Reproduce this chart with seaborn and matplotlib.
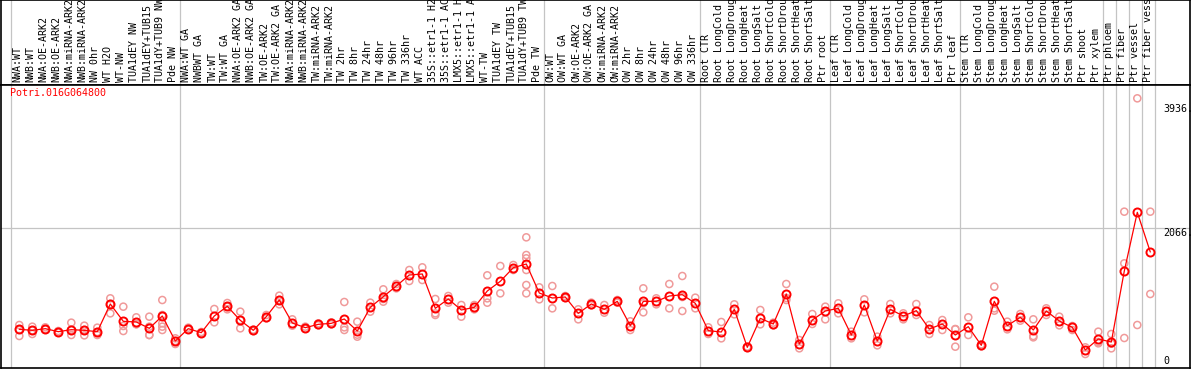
import pandas as pd
import seaborn as sns
import matplotlib.pyplot as plt

GENE = "Potri.016G064800"

SAMPLES = [
    "NWA:WT", "NWB:WT", "NWA:OE-ARK2", "NWB:OE-ARK2", "NWA:miRNA-ARK2",
    "NWB:miRNA-ARK2", "NW 0hr", "WT H2O", "WT-NW", "TUA1dEY NW",
    "TUA1dEY+TUB15", "TUA1dY+TUB9 NW", "Pde NW",
    "NWA:WT GA", "NWBWT GA", "TW:WT", "TW:WT GA", "NWA:OE-ARK2 GA",
    "NWB:OE-ARK2 GA", "TW:OE-ARK2", "TW:OE-ARK2 GA", "NWA:miRNA-ARK2",
    "NWB:miRNA-ARK2", "TW:miRNA-ARK2", "TW:miRNA-ARK2", "TW 2hr", "TW 8hr",
    "TW 24hr", "TW 48hr", "TW 96hr", "TW 336hr", "WT ACC", "35S::etr1-1 H2O",
    "35S::etr1-1 ACC", "LMX5::etr1-1 H2O", "LMX5::etr1-1 ACC", "WT-TW",
    "TUA1dEY TW", "TUA1dEY+TUB15", "TUA1dY+TUB9 TW", "Pde TW",
    "OW:WT", "OW:WT GA", "OW:OE-ARK2", "OW:OE-ARK2 GA", "OW:miRNA-ARK2",
    "OW:miRNA-ARK2", "OW 2hr", "OW 8hr", "OW 24hr", "OW 48hr", "OW 96hr",
    "OW 336hr",
    "Root CTR", "Root LongCold", "Root LongDrought", "Root LongHeat",
    "Root LongSalt", "Root ShortCold", "Root ShortDrought", "Root ShortHeat",
    "Root ShortSalt", "Ptr root",
    "Leaf CTR", "Leaf LongCold", "Leaf LongDrought", "Leaf LongHeat",
    "Leaf LongSalt", "Leaf ShortCold", "Leaf ShortDrought", "Leaf ShortHeat",
    "Leaf ShortSalt", "Ptr leaf",
    "Stem CTR", "Stem LongCold", "Stem LongDrought", "Stem LongHeat",
    "Stem LongSalt", "Stem ShortCold", "Stem ShortDrought", "Stem ShortHeat",
    "Stem ShortSalt", "Ptr shoot", "Ptr xylem",
    "Ptr phloem", "Ptr fiber", "Ptr vessel", "Ptr fiber vessel",
]

# index of first sample of each block (and end)
GROUP_STARTS = [0, 13, 41, 53, 63, 73, 84, 85, 86, 87, 88]

MEANS = [
    550, 535, 560, 515, 545, 535, 515, 930, 670, 660, 565, 750, 375,
    560, 500, 750, 895, 685, 535, 740, 990, 645, 575, 625, 640, 705, 525,
    880, 1040, 1200, 1365, 1380, 865, 1005, 840, 880, 1125, 1270, 1475,
    1530, 1095,
    1020, 1035, 790, 930, 850, 970, 605, 970, 970, 1050, 1070, 940,
    530, 510, 850, 280, 715, 630, 1080, 330, 690, 825,
    865, 465, 915, 375, 850, 750, 830, 555, 630, 465,
    590, 310, 970, 605, 730, 540, 825, 675, 580, 240, 405,
    360, 1425, 2305, 1710,
]

REPLICATES = [
    [615, 545, 450], [590, 535, 480], [580, 550], [525, 505],
    [650, 545, 465], [605, 540, 460], [575, 510, 465], [1015, 930, 790],
    [890, 600, 525], [730, 625, 630], [740, 590, 465, 465],
    [990, 765, 640, 590, 540], [415, 375, 330],
    [575, 545], [510, 490], [855, 655], [945, 850, 890], [815, 690, 565],
    [545, 525], [765, 715], [1055, 990, 925], [700, 605], [590, 560],
    [640, 610], [655, 625], [960, 580, 540], [665, 470, 440], [950, 815],
    [1150, 1005, 965], [1230, 1165], [1440, 1275], [1480, 1290],
    [1005, 790, 765], [1050, 950], [915, 740], [915, 850],
    [1360, 1015, 950], [1500, 1090], [1515, 1440],
    [1930, 1665, 1615, 1440, 1215, 1090], [1180, 1000],
    [1200, 865], [1050, 1020], [850, 700], [950, 910], [915, 800],
    [990, 950], [670, 540], [1165, 940, 805], [1015, 925], [1230, 865],
    [1350, 1035, 825], [1025, 865],
    [580, 480], [660, 415], [925, 775], [290, 270], [840, 625], [650, 610],
    [1230, 1020, 990], [390, 265], [780, 630], [890, 700],
    [940, 790], [515, 415], [1000, 805], [440, 310], [930, 790], [790, 700],
    [930, 765], [615, 480], [690, 540], [555, 550, 290],
    [730, 465], [325, 295], [1190, 865, 830], [665, 550], [780, 680],
    [700, 450, 430], [865, 765], [740, 610], [600, 540], [280, 180],
    [515, 360, 340],
    [480, 335, 265], [2315, 1540, 420], [4015, 615], [2315, 1080],
]

TICK_VALUES = [3936, 2066, 0]
TICK_LABELS = ["3936.", "2066.", "0"]

W, H = 1194, 370
RED = "#ff0000"
PINK = "#f09a9a"
GRID = "#c4c4c4"
MONO = "DejaVu Sans Mono"


def px_to_x(px):
    # sample i sits at pixel 19.3 + 13 * i
    return (px - 19.3) / 13.0


def main():
    sns.set_theme(style="white")
    plt.rcParams["font.family"] = [MONO, "DejaVu Sans"]

    x = list(range(len(SAMPLES)))
    df_mean = pd.DataFrame({"x": x, "value": MEANS})
    df_rep = pd.DataFrame(
        [(i, v) for i, reps in enumerate(REPLICATES) for v in reps],
        columns=["x", "value"],
    )

    fig = plt.figure(figsize=(W / 100, H / 100), dpi=100)
    fig.patch.set_facecolor("white")

    left, right = 1 / W, 1190 / W
    sep_px = 85
    bot_px = 368
    ax_top = fig.add_axes([left, (H - sep_px) / H, right - left, sep_px / H])
    ax = fig.add_axes([left, (H - bot_px) / H, right - left, (bot_px - sep_px) / H])

    xlim = (px_to_x(1), px_to_x(1190))
    y0_px = 366
    scale = 15.0
    ylim = ((y0_px - bot_px) * scale, (y0_px - sep_px) * scale)

    for a in (ax_top, ax):
        a.set_xlim(*xlim)
        a.set_xticks([])
        a.set_yticks([])
        a.set_xlabel("")
        a.set_ylabel("")
        a.set_facecolor("white")
        for s in a.spines.values():
            s.set_color("black")
            s.set_linewidth(1.2)
        for g in GROUP_STARTS:
            a.axvline(g - 0.64, color=GRID, lw=0.9, zorder=0)

    ax_top.set_ylim(0, 1)
    for i, lab in enumerate(SAMPLES):
        ax_top.text(i - 0.15, 0.03, lab, rotation=90, ha="center", va="bottom",
                    fontsize=7.2, color="black", family=MONO)

    ax.set_ylim(*ylim)
    ax.axhline(2066, color=GRID, lw=0.9, zorder=0)

    sns.scatterplot(data=df_rep, x="x", y="value", ax=ax, marker="o", s=26,
                    color=PINK, edgecolor=PINK, linewidth=1.1, zorder=2,
                    legend=False)
    ax.collections[-1].set_facecolor("none")

    sns.lineplot(data=df_mean, x="x", y="value", ax=ax, color=RED, lw=0.9,
                 marker="o", markersize=5.8, markerfacecolor="none",
                 markeredgecolor=RED, markeredgewidth=1.4, zorder=3,
                 legend=False)
    ax.set_xlabel("")
    ax.set_ylabel("")

    tx = px_to_x(1163)
    for v, lab in zip(TICK_VALUES, TICK_LABELS):
        ax.text(tx, v, lab, ha="left", va="bottom" if v == 0 else "top",
                fontsize=7.2, color="black", family=MONO)

    fig.text(10 / W, 1 - 88 / H, GENE, color=RED, ha="left", va="top",
             fontsize=7.2, family=MONO)

    fig.savefig("out.png", dpi=100)
    plt.close(fig)


if __name__ == "__main__":
    main()
